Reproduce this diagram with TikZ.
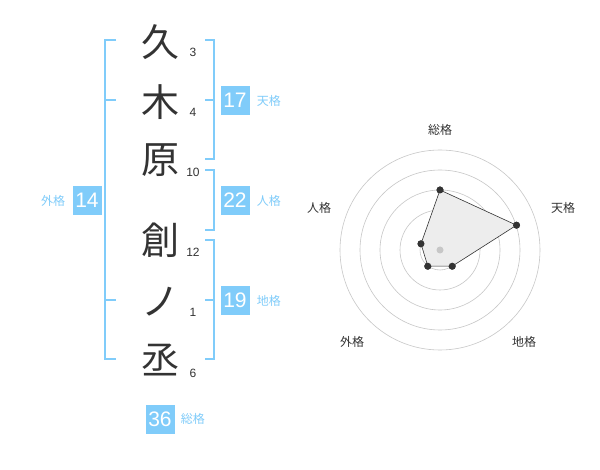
\documentclass[tikz,border=0pt]{standalone}
\usepackage{fontspec}
\setmainfont{Liberation Sans}
\newfontfamily\jpfont{Noto Sans CJK JP}
\usepackage{tikz}
\usetikzlibrary{positioning}
\usetikzlibrary{calc}

\definecolor{kakublue}{HTML}{80CCFA}
\definecolor{inkgray}{HTML}{333333}

\tikzset{
    kanji/.style     = {font = \jpfont\fontsize{38}{38}\selectfont, text = inkgray, inner sep = 0pt},
    strokes/.style   = {font = \fontsize{12}{12}\selectfont, text = inkgray, inner sep = 0pt},
    kakubox/.style   = {fill = kakublue, text = white, minimum size = 29pt, inner sep = 0pt,
                        font = \fontsize{21}{21}\selectfont},
    kakulabel/.style = {text = kakublue, font = \jpfont\fontsize{12}{12}\selectfont, inner sep = 0pt},
    bracket/.style   = {draw = kakublue, line width = 2pt},
    ring/.style      = {draw = black!22, line width = .6pt},
    axislabel/.style = {text = inkgray, font = \jpfont\fontsize{12}{12}\selectfont, inner sep = 0pt},
    dot/.style       = {circle, fill = inkgray, inner sep = 0pt, minimum size = 7pt}
}

\begin{document}
\begin{tikzpicture}[x = 1pt, y = -1pt]
    \useasboundingbox [fill = white] (0,0) rectangle (600,470);

    % Draw the name and the stroke counts:
    \node [kanji] (c1) at (160, 42) {久};
    \node [kanji] (c2) at (160,102) {木};
    \node [kanji] (c3) at (160,160) {原};
    \node [kanji] (c4) at (160,240) {創};
    \node [kanji] (c5) at (160,302) {ノ};
    \node [kanji] (c6) at (160,360) {丞};

    \node [strokes] (s1) at (193, 52) {3};
    \node [strokes] (s2) at (193,112) {4};
    \node [strokes] (s3) at (193,172) {10};
    \node [strokes] (s4) at (193,252) {12};
    \node [strokes] (s5) at (193,312) {1};
    \node [strokes] (s6) at (193,373) {6};

    % Draw the brackets:
    \draw [bracket] (116,40) -- (105,40) -- (105,359) -- (116,359);
    \draw [bracket] (105,100) -- (116,100);
    \draw [bracket] (105,300) -- (116,300);
    \draw [bracket] (205,40) -- (214,40) -- (214,159) -- (205,159);
    \draw [bracket] (214,100) -- (205,100);
    \draw [bracket] (205,170) -- (214,170) -- (214,230) -- (205,230);
    \draw [bracket] (205,240) -- (214,240) -- (214,359) -- (205,359);
    \draw [bracket] (214,300) -- (205,300);

    % Draw the scores:
    \node [kakubox] (ten)  at (235,100.5) {17};
    \node [kakubox] (jin)  at (235,200.5) {22};
    \node [kakubox] (chi)  at (235,300.5) {19};
    \node [kakubox] (gai)  at ( 87,200.5) {14};
    \node [kakubox] (sou)  at (160,419)   {36};
    \node [kakulabel, right = 7pt of ten] {天格};
    \node [kakulabel, right = 7pt of jin] {人格};
    \node [kakulabel, right = 7pt of chi] {地格};
    \node [kakulabel, left  = 7pt of gai] {外格};
    \node [kakulabel, right = 6pt of sou] {総格};

    % Draw the radar chart:
    \coordinate (O) at (440,250);
    \foreach \r in {20, 40, ..., 100}
        \draw [ring] (O) circle (\r);

    \node [dot] (pSou) at ($(O)+(0,-60)$) {};
    \node [dot] (pTen) at ($(O)+(76.5,-24.8)$) {};
    \node [dot] (pChi) at ($(O)+(12.2,16.2)$) {};
    \node [dot] (pGai) at ($(O)+(-12.2,16.2)$) {};
    \node [dot] (pJin) at ($(O)+(-19,-6.2)$) {};
    \draw [fill = black!7, draw = inkgray, line width = .6pt]
        (pSou.center) -- (pTen.center) -- (pChi.center) -- (pGai.center) -- (pJin.center) -- cycle;
    \foreach \p in {pSou, pTen, pChi, pGai, pJin}
        \node [dot] at (\p) {};
    \fill [black!22] (O) circle (3.5);

    \node [axislabel] (lSou) at (440,130) {総格};
    \node [axislabel] (lTen) at (563,208) {天格};
    \node [axislabel] (lChi) at (524,342) {地格};
    \node [axislabel] (lGai) at (352,342) {外格};
    \node [axislabel] (lJin) at (319,208) {人格};
\end{tikzpicture}
\end{document}
